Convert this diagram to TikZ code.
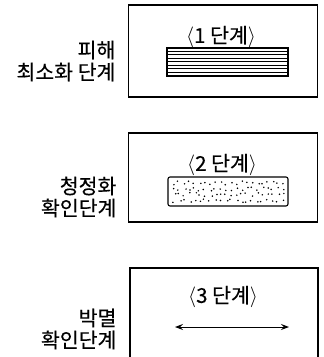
\documentclass[tikz,border=0pt]{standalone}
\usepackage{fontspec}
\usetikzlibrary{arrows.meta}
\newfontfamily\kor[FakeBold=0.3]{Noto Sans CJK KR}
\begin{document}
\begin{tikzpicture}[x=1pt,y=-1pt,line width=1.2pt,
	stagebox/.style={draw,rectangle,minimum width=189pt,inner sep=0},
	steplabel/.style={font=\kor\fontsize{20.5}{22}\selectfont,inner sep=0},
	sidetext/.style={font=\kor\fontsize{20.5}{22}\selectfont,align=right,anchor=east,inner sep=0}]
\useasboundingbox (0,0) rectangle (324,357);
% stage 1
\node[stagebox,minimum height=92pt] (box1) at (223,51) {};
\node[steplabel] (lab1) at (221,37) {$\langle$1 단계$\rangle$};
\node[draw,rectangle,minimum width=121pt,minimum height=28pt,inner sep=0,line width=1.1pt] (stripe) at (227.5,62) {};
\foreach \i in {1,...,7}
	\draw[line width=0.9pt] ([yshift=-3.5pt*\i]stripe.north west) -- ([yshift=-3.5pt*\i]stripe.north east);
\node[sidetext] (side1) at (116,61) {피해\\최소화 단계};
% stage 2
\node[stagebox,minimum height=89pt] (box2) at (223,177.5) {};
\node[steplabel] (lab2) at (222,165) {$\langle$2 단계$\rangle$};
\node[draw,rectangle,rounded corners=2pt,minimum width=120pt,minimum height=29pt,inner sep=0,line width=1.1pt] (dots) at (228,191.5) {};
\pgfmathsetseed{5}
\foreach \r in {0,...,3}
	\foreach \c in {0,...,21}{
		\pgfmathsetmacro\dx{172+5.2*\c+4*rnd}
		\pgfmathsetmacro\dy{181+5.8*\r+4*rnd}
		\fill (\dx,\dy) circle (0.85pt);
	}
\node[sidetext] (side2) at (117,197) {청정화\\확인단계};
% stage 3
\draw (130,360) |- (318,268) -- (318,360);
\node[steplabel] (lab3) at (223,297) {$\langle$3 단계$\rangle$};
\coordinate (left3) at (175,327);
\coordinate (right3) at (289,327);
\draw[{Stealth[length=8pt,width=6pt,inset=3pt]}-{Stealth[length=8pt,width=6pt,inset=3pt]},line width=1pt] (left3) -- (right3);
\node[sidetext] (side3) at (117,329) {박멸\\확인단계};
\end{tikzpicture}
\end{document}
